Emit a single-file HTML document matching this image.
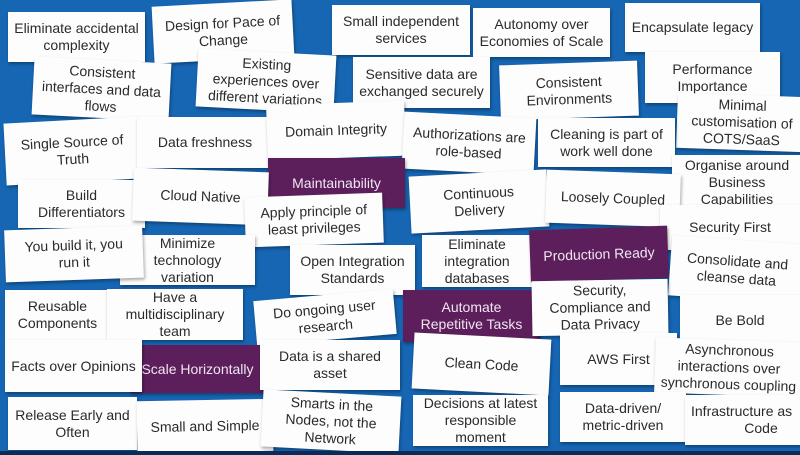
<!DOCTYPE html>
<html><head><meta charset="utf-8"><style>
body{margin:0;width:800px;height:455px;overflow:hidden;background:#1666b4;font-family:"Liberation Sans",sans-serif;}
.c{position:absolute;background:#fdfdfd;color:#2a2a2a;font-size:14px;line-height:17px;display:flex;align-items:center;justify-content:center;text-align:center;box-shadow:1px 2px 3px rgba(0,0,0,.35);box-sizing:border-box;padding:0 2px;white-space:nowrap;}
.p{background:#5c1f5c;color:#f0e6f0;}
</style></head><body>
<div class="c" style="left:8px;top:12px;width:137px;height:50px">Eliminate accidental<br>complexity</div>
<div class="c" style="left:153px;top:3px;width:140px;height:57px;transform:rotate(-3deg)">Design for Pace of<br>Change</div>
<div class="c" style="left:332px;top:5px;width:138px;height:50px">Small independent<br>services</div>
<div class="c" style="left:473px;top:8px;width:137px;height:49px">Autonomy over<br>Economies of Scale</div>
<div class="c" style="left:625px;top:3px;width:135px;height:49px">Encapsulate legacy</div>
<div class="c" style="left:33px;top:60px;width:137px;height:58px;transform:rotate(3deg)">Consistent<br>interfaces and data<br>flows</div>
<div class="c" style="left:197px;top:52px;width:138px;height:58px;transform:rotate(3deg)">Existing<br>experiences over<br>different variations</div>
<div class="c" style="left:353px;top:57px;width:137px;height:51px">Sensitive data are<br>exchanged securely</div>
<div class="c" style="left:645px;top:52px;width:135px;height:51px">Performance<br>Importance</div>
<div class="c" style="left:500px;top:63px;width:138px;height:55px;transform:rotate(-2deg)">Consistent<br>Environments</div>
<div class="c" style="left:677px;top:95px;width:130px;height:55px;transform:rotate(2deg)">Minimal<br>customisation of<br>COTS/SaaS</div>
<div class="c" style="left:5px;top:120px;width:135px;height:62px;transform:rotate(-3deg)">Single Source of<br>Truth</div>
<div class="c" style="left:137px;top:117px;width:136px;height:51px">Data freshness</div>
<div class="c" style="left:267px;top:103px;width:138px;height:55px;transform:rotate(-2deg)">Domain Integrity</div>
<div class="c" style="left:403px;top:115px;width:132px;height:57px;transform:rotate(3deg)">Authorizations are<br>role-based</div>
<div class="c" style="left:538px;top:118px;width:137px;height:49px">Cleaning is part of<br>work well done</div>
<div class="c p" style="left:268px;top:158px;width:137px;height:50px">Maintainability</div>
<div class="c" style="left:672px;top:155px;width:130px;height:55px">Organise around<br>Business<br>Capabilities</div>
<div class="c" style="left:18px;top:180px;width:127px;height:48px">Build<br>Differentiators</div>
<div class="c" style="left:133px;top:170px;width:135px;height:53px;transform:rotate(2deg)">Cloud Native</div>
<div class="c" style="left:410px;top:173px;width:138px;height:57px;transform:rotate(-3deg)">Continuous<br>Delivery</div>
<div class="c" style="left:546px;top:172px;width:134px;height:53px;transform:rotate(2deg)">Loosely Coupled</div>
<div class="c" style="left:660px;top:205px;width:140px;height:45px">Security First</div>
<div class="c" style="left:245px;top:195px;width:138px;height:50px;transform:rotate(-2deg)">Apply principle of<br>least privileges</div>
<div class="c" style="left:120px;top:235px;width:135px;height:50px">Minimize<br>technology<br>variation</div>
<div class="c" style="left:5px;top:228px;width:138px;height:52px;transform:rotate(-2deg)">You build it, you<br>run it</div>
<div class="c" style="left:290px;top:245px;width:125px;height:50px">Open Integration<br>Standards</div>
<div class="c" style="left:422px;top:235px;width:110px;height:52px">Eliminate<br>integration<br>databases</div>
<div class="c p" style="left:530px;top:228px;width:138px;height:52px;transform:rotate(-2deg)">Production Ready</div>
<div class="c" style="left:670px;top:240px;width:134px;height:60px;transform:rotate(4deg)">Consolidate and<br>cleanse data</div>
<div class="c" style="left:5px;top:290px;width:105px;height:50px">Reusable<br>Components</div>
<div class="c" style="left:107px;top:289px;width:136px;height:51px">Have a<br>multidisciplinary<br>team</div>
<div class="c" style="left:255px;top:295px;width:140px;height:45px;transform:rotate(-5deg)">Do ongoing user<br>research</div>
<div class="c p" style="left:403px;top:290px;width:137px;height:52px">Automate<br>Repetitive Tasks</div>
<div class="c" style="left:532px;top:280px;width:136px;height:55px;transform:rotate(-1deg)">Security,<br>Compliance and<br>Data Privacy</div>
<div class="c" style="left:680px;top:295px;width:120px;height:50px">Be Bold</div>
<div class="c p" style="left:130px;top:345px;width:135px;height:48px">Scale Horizontally</div>
<div class="c" style="left:5px;top:340px;width:137px;height:52px">Facts over Opinions</div>
<div class="c" style="left:260px;top:340px;width:140px;height:50px">Data is a shared<br>asset</div>
<div class="c" style="left:413px;top:336px;width:137px;height:56px;transform:rotate(3deg)">Clean Code</div>
<div class="c" style="left:560px;top:333px;width:117px;height:52px">AWS First</div>
<div class="c" style="left:655px;top:340px;width:148px;height:55px;transform:rotate(2deg)">Asynchronous<br>interactions over<br>synchronous coupling</div>
<div class="c" style="left:8px;top:397px;width:129px;height:53px">Release Early and<br>Often</div>
<div class="c" style="left:137px;top:400px;width:136px;height:52px;transform:rotate(-1deg)">Small and Simple</div>
<div class="c" style="left:262px;top:393px;width:138px;height:57px;transform:rotate(3deg)">Smarts in the<br>Nodes, not the<br>Network</div>
<div class="c" style="left:413px;top:395px;width:135px;height:51px">Decisions at latest<br>responsible<br>moment</div>
<div class="c" style="left:560px;top:392px;width:126px;height:50px">Data-driven/<br>metric-driven</div>
<div class="c" style="left:685px;top:395px;width:125px;height:50px;justify-content:flex-start;padding-left:6px">Infrastructure as<br>&nbsp;&nbsp;&nbsp;&nbsp;&nbsp;&nbsp;&nbsp;&nbsp;&nbsp;&nbsp;Code</div>
<div style="position:absolute;left:0;top:451px;width:800px;height:4px;background:#0b2a55"></div>
</body></html>
